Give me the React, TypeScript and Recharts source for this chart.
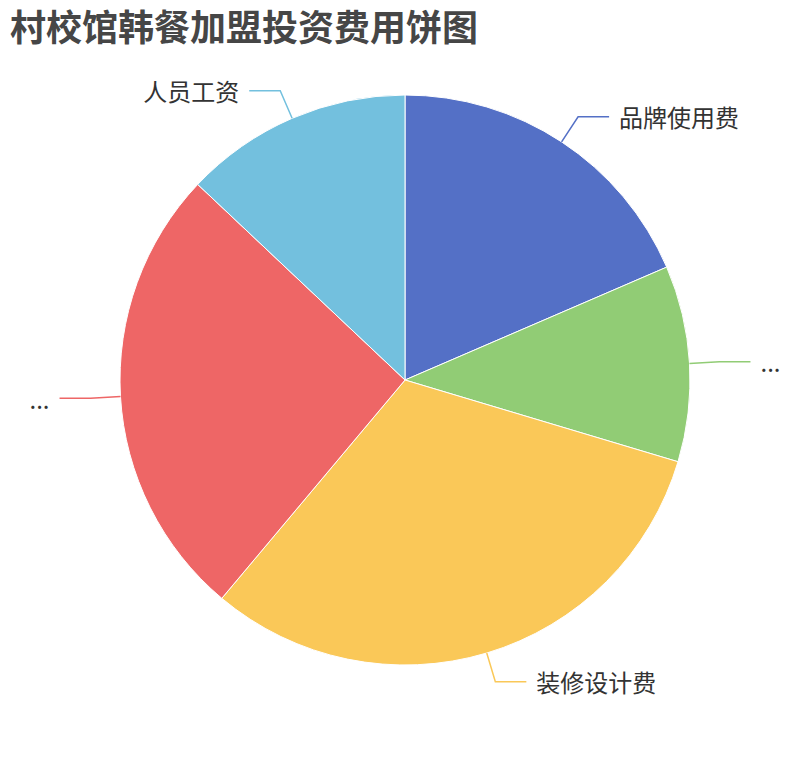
import { PieChart, Pie, Cell } from "recharts";

const categories = ["品牌使用费", "加盟费", "装修设计费", "设备采购费", "人员工资"];
const shownLabels = ["品牌使用费", "...", "装修设计费", "...", "人员工资"];
const values = [5, 3, 8.5, 7, 3.5];
const colors = ["#5470c6", "#91cc75", "#fac858", "#ee6666", "#73c0de"];

const data = categories.map((name, i) => ({ name, value: values[i], label: shownLabels[i] }));

const FONT = '"Noto Sans CJK SC", "Noto Sans", sans-serif';
const RAD = Math.PI / 180;

function renderLabel(props: any) {
  const { cx, cy, midAngle, outerRadius, index } = props;
  const cos = Math.cos(-midAngle * RAD);
  const sin = Math.sin(-midAngle * RAD);
  const sx = cx + outerRadius * cos;
  const sy = cy + outerRadius * sin;
  const mx = cx + (outerRadius + 30) * cos;
  const my = cy + (outerRadius + 30) * sin;
  const right = cos >= 0;
  const ex = mx + (right ? 31 : -31);
  const tx = ex + (right ? 10 : -10);
  return (
    <g>
      <path
        d={`M${sx},${sy}L${mx},${my}L${ex},${my}`}
        stroke={colors[index]}
        strokeWidth={1.5}
        fill="none"
      />
      <text
        x={tx}
        y={my}
        textAnchor={right ? "start" : "end"}
        dominantBaseline="central"
        fill="#333"
        fontSize={24}
        fontFamily={FONT}
      >
        {data[index].label}
      </text>
    </g>
  );
}

export default function App() {
  return (
    <div style={{ position: "absolute", left: 0, top: 0, width: 810, height: 760, background: "#fff" }}>
      <div
        style={{
          position: "absolute",
          left: 10,
          top: 3,
          fontSize: 36,
          fontWeight: "bold",
          color: "#464646",
          fontFamily: FONT,
          lineHeight: "44px",
        }}
      >
        村校馆韩餐加盟投资费用饼图
      </div>
      <PieChart width={810} height={760} margin={{ top: 0, right: 0, bottom: 0, left: 0 }}>
        <Pie
          data={data}
          dataKey="value"
          nameKey="name"
          cx={405}
          cy={380}
          innerRadius={0}
          outerRadius={285}
          startAngle={90}
          endAngle={-270}
          stroke="#fff"
          strokeWidth={1}
          label={renderLabel}
          labelLine={false}
          isAnimationActive={false}
        >
          {data.map((d, i) => (
            <Cell key={d.name} fill={colors[i]} />
          ))}
        </Pie>
      </PieChart>
    </div>
  );
}
